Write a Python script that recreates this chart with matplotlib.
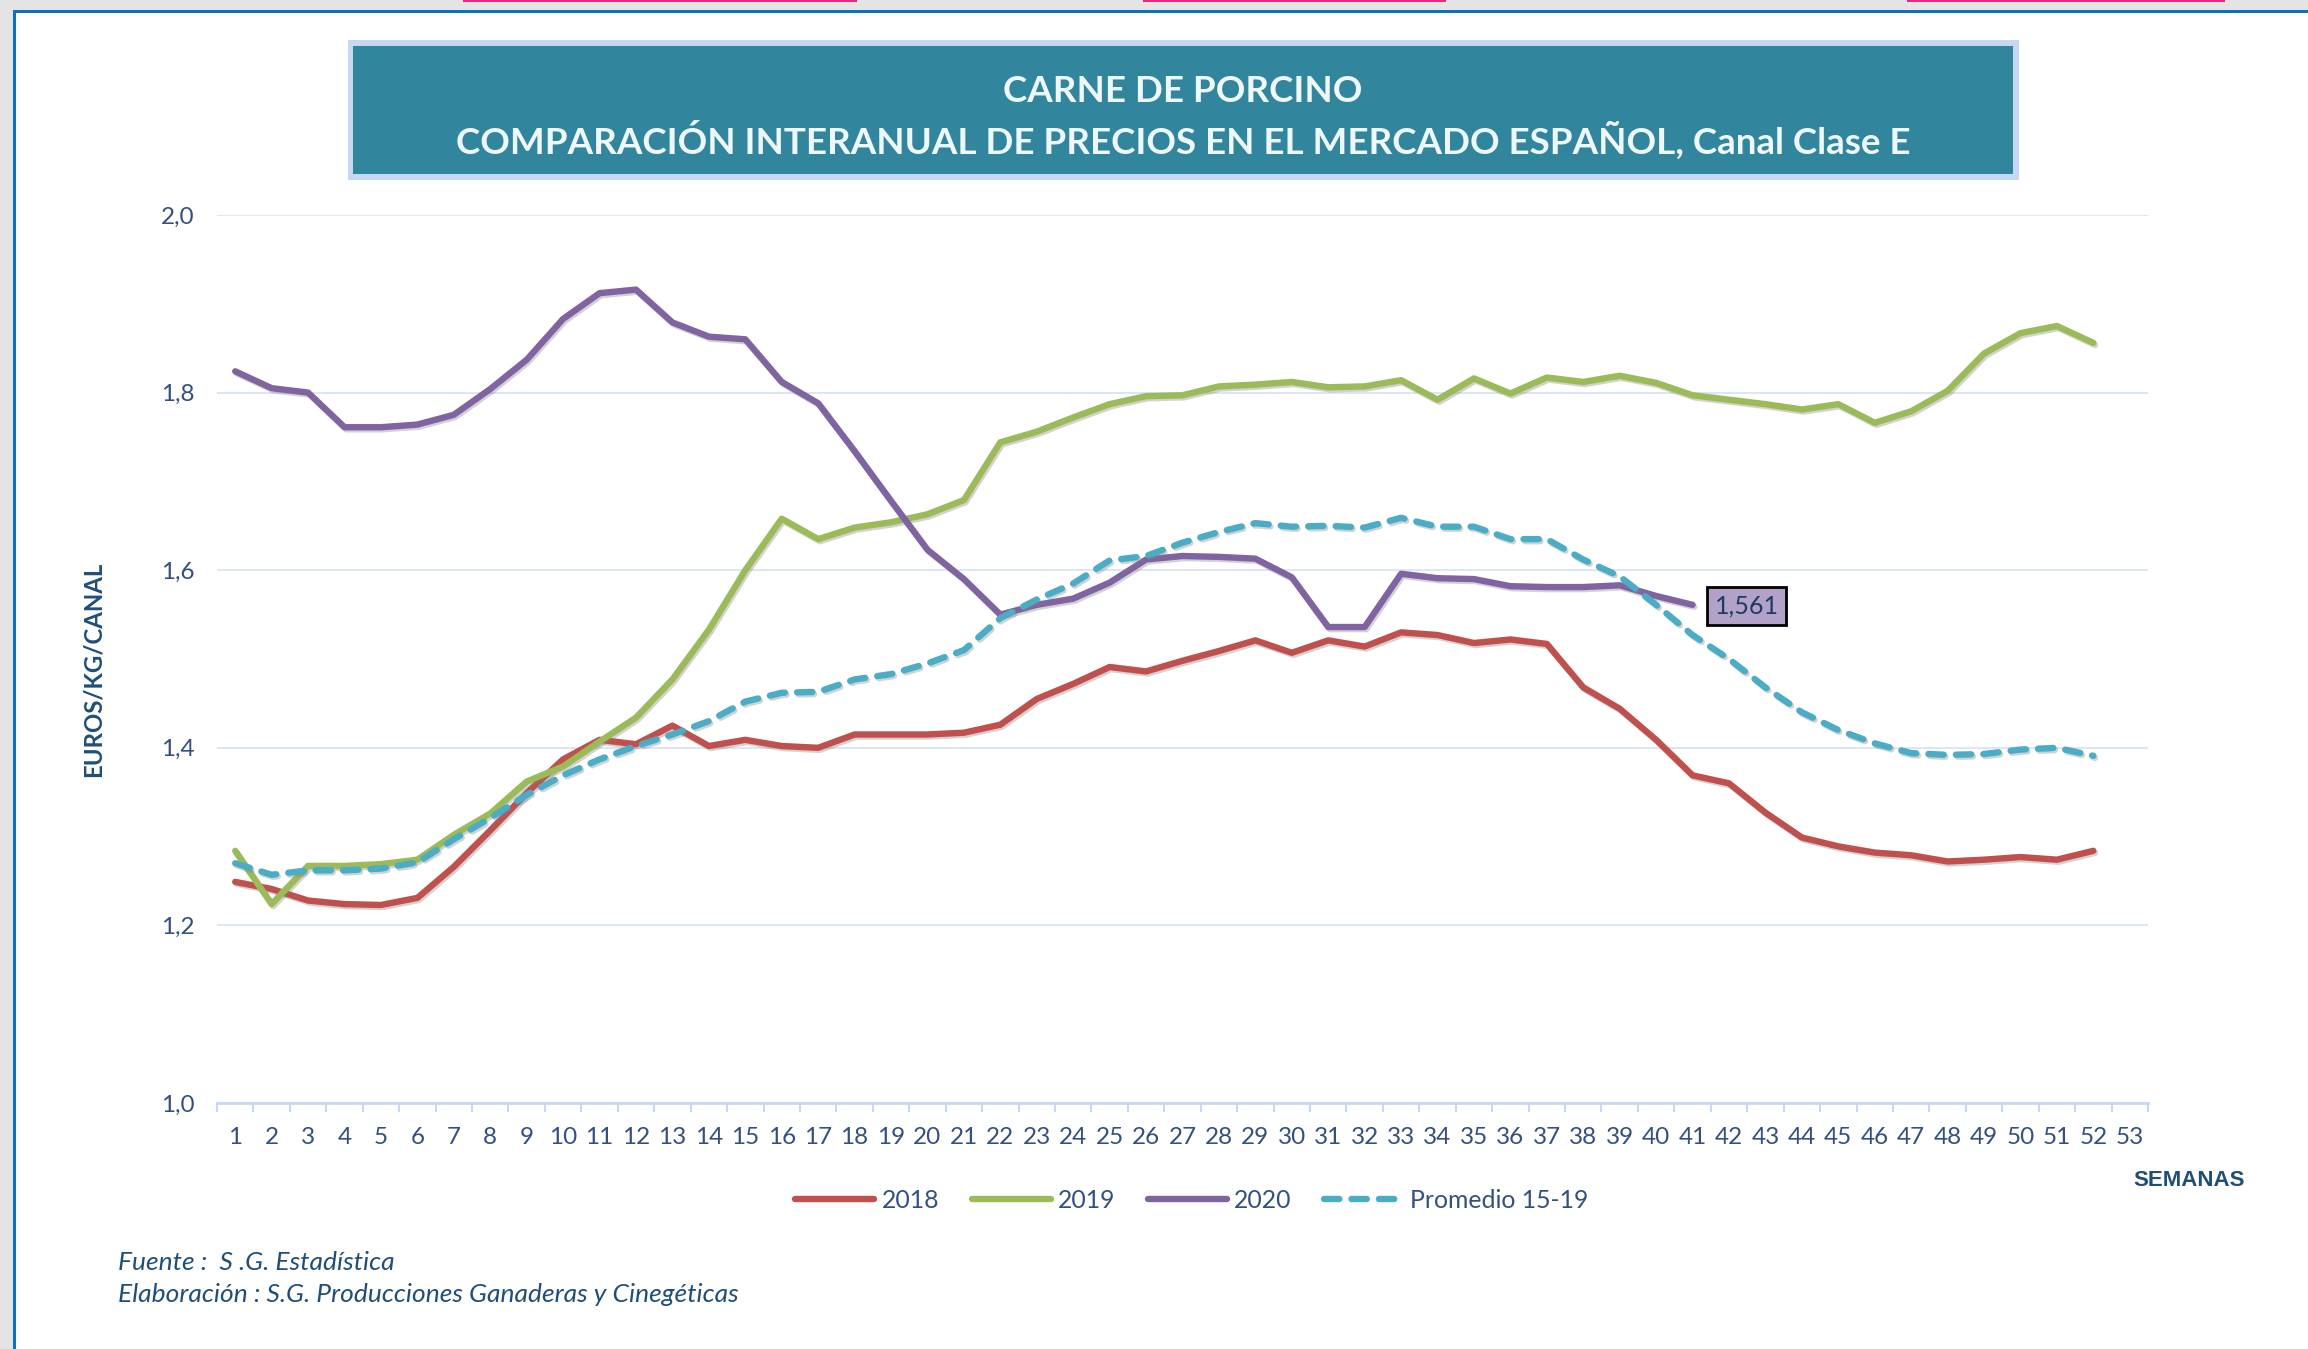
import matplotlib

matplotlib.use("Agg")

import matplotlib.pyplot as plt
import matplotlib.patheffects as pe
from matplotlib.patches import Rectangle
from matplotlib.ticker import FixedLocator, FuncFormatter

W, H = 2308, 1349

semanas = list(range(1, 54))

precio_2018 = [1.249, 1.241, 1.228, 1.224, 1.223, 1.231, 1.266, 1.307, 1.349, 1.387,
               1.409, 1.404, 1.425, 1.402, 1.409, 1.402, 1.400, 1.415, 1.415, 1.415,
               1.417, 1.426, 1.455, 1.472, 1.491, 1.486, 1.498, 1.509, 1.521, 1.507,
               1.521, 1.514, 1.530, 1.527, 1.518, 1.522, 1.517, 1.468, 1.444, 1.409,
               1.369, 1.360, 1.327, 1.299, 1.289, 1.282, 1.279, 1.272, 1.274, 1.277,
               1.274, 1.284]

precio_2019 = [1.284, 1.224, 1.267, 1.267, 1.269, 1.274, 1.302, 1.326, 1.362, 1.379,
               1.407, 1.434, 1.477, 1.533, 1.600, 1.658, 1.635, 1.648, 1.654, 1.663,
               1.679, 1.744, 1.756, 1.772, 1.787, 1.796, 1.797, 1.807, 1.809, 1.812,
               1.806, 1.807, 1.814, 1.792, 1.816, 1.799, 1.817, 1.812, 1.819, 1.811,
               1.797, 1.792, 1.787, 1.781, 1.787, 1.766, 1.779, 1.802, 1.844, 1.867,
               1.875, 1.856]

precio_2020 = [1.824, 1.805, 1.800, 1.761, 1.761, 1.764, 1.775, 1.804, 1.837, 1.883,
               1.912, 1.916, 1.879, 1.863, 1.860, 1.812, 1.788, 1.734, 1.678, 1.623,
               1.590, 1.550, 1.561, 1.568, 1.586, 1.612, 1.616, 1.615, 1.613, 1.592,
               1.536, 1.536, 1.596, 1.591, 1.590, 1.582, 1.581, 1.581, 1.583, 1.571,
               1.561]

promedio_15_19 = [1.270, 1.257, 1.262, 1.262, 1.264, 1.271, 1.297, 1.321, 1.347, 1.369,
                  1.387, 1.402, 1.415, 1.430, 1.452, 1.462, 1.463, 1.477, 1.483, 1.495,
                  1.510, 1.546, 1.567, 1.585, 1.611, 1.616, 1.631, 1.643, 1.653, 1.649,
                  1.650, 1.648, 1.659, 1.649, 1.649, 1.635, 1.635, 1.612, 1.593, 1.561,
                  1.527, 1.500, 1.468, 1.440, 1.420, 1.405, 1.394, 1.392, 1.393, 1.398,
                  1.400, 1.391]

y_ticks = [1.0, 1.2, 1.4, 1.6, 1.8, 2.0]

TEXT_COLOR = "#34507f"
DARK_BLUE = "#1f4e79"
FONT = ["Lato", "DejaVu Sans"]

plt.rcParams["font.family"] = FONT


def fx(px):
    return px / W


def fy(py):
    return 1 - py / H


fig = plt.figure(figsize=(W / 100, H / 100), dpi=100, facecolor="white")

# marco de la hoja (gris + borde azul)
fig.add_artist(Rectangle((0, fy(10)), 1, 10 / H, transform=fig.transFigure,
                         facecolor="#e4e4e4", edgecolor="none", zorder=0))
fig.add_artist(Rectangle((0, 0), fx(13), 1, transform=fig.transFigure,
                         facecolor="#e4e4e4", edgecolor="none", zorder=0))
for x0, x1 in [(463, 857), (1143, 1446), (1907, 2225)]:
    fig.add_artist(Rectangle((fx(x0), fy(2)), fx(x1 - x0), 2 / H, transform=fig.transFigure,
                             facecolor="#e8287f", edgecolor="none", zorder=1))
fig.add_artist(Rectangle((fx(13), fy(13)), 1, 3 / H, transform=fig.transFigure,
                         facecolor="#0a72c2", edgecolor="none", zorder=1))
fig.add_artist(Rectangle((fx(13), 0), fx(3), fy(10), transform=fig.transFigure,
                         facecolor="#0a72c2", edgecolor="none", zorder=1))

# caja del titulo
fig.add_artist(Rectangle((fx(348), fy(180)), fx(2019 - 348), 140 / H, transform=fig.transFigure,
                         facecolor="#c6d9f1", edgecolor="none", zorder=1))
fig.add_artist(Rectangle((fx(353), fy(174)), fx(2013 - 353), 128 / H, transform=fig.transFigure,
                         facecolor="#31859c", edgecolor="none", zorder=2))
fig.text(fx(1183), fy(92), "CARNE DE PORCINO", ha="center", va="center",
         fontsize=26.5, fontweight="bold", color="#eef7f9", zorder=3)
fig.text(fx(1183), fy(140),
         "COMPARACIÓN INTERANUAL DE PRECIOS EN EL MERCADO ESPAÑOL, Canal Clase E",
         ha="center", va="center", fontsize=26.5, fontweight="bold", color="#eef7f9", zorder=3)

ax = fig.add_axes([fx(217), fy(1103), fx(2148 - 217), (1103 - 215) / H])
ax.set_facecolor("none")

shadow = [pe.SimpleLineShadow(offset=(1.2, -1.5), shadow_color="#808080", alpha=0.35),
          pe.Normal()]

ax.plot(semanas[:len(precio_2018)], precio_2018, color="#c0504d", lw=4.6,
        solid_capstyle="round", solid_joinstyle="round", label="2018", path_effects=shadow)
ax.plot(semanas[:len(precio_2019)], precio_2019, color="#9bbb59", lw=4.6,
        solid_capstyle="round", solid_joinstyle="round", label="2019", path_effects=shadow)
ax.plot(semanas[:len(precio_2020)], precio_2020, color="#8064a2", lw=4.6,
        solid_capstyle="round", solid_joinstyle="round", label="2020", path_effects=shadow)
ax.plot(semanas[:len(promedio_15_19)], promedio_15_19, color="#4bacc6", lw=4.6,
        dashes=(2.4, 1.9), dash_capstyle="round", label="Promedio 15-19", path_effects=shadow)

ax.annotate("1,561", xy=(len(precio_2020), precio_2020[-1]), xytext=(39, -1),
            textcoords="offset points", ha="center", va="center", fontsize=18,
            color="#1f3864",
            bbox=dict(boxstyle="square,pad=0.3", facecolor="#b3a2c7", edgecolor="black", lw=2))

ax.set_xlim(0.5, 53.5)
ax.set_ylim(1.0, 2.0)
ax.set_xticks(semanas)
ax.xaxis.set_minor_locator(FixedLocator([s - 0.5 for s in semanas] + [53.5]))
ax.set_yticks(y_ticks)
ax.yaxis.set_major_formatter(FuncFormatter(lambda v, p: f"{v:.1f}".replace(".", ",")))

ax.tick_params(axis="x", which="major", length=0, pad=17, labelsize=17.5, labelcolor=TEXT_COLOR)
ax.tick_params(axis="x", which="minor", length=6.5, width=1.5, color="#c6d9f1", direction="out")
ax.tick_params(axis="y", length=0, pad=16, labelsize=17.5, labelcolor=TEXT_COLOR)

ax.grid(axis="y", color="#d9e4f3", lw=1.3)
for s in ["top", "right", "left"]:
    ax.spines[s].set_visible(False)
ax.spines["bottom"].set_color("#c6d9f1")
ax.spines["bottom"].set_linewidth(2)
ax.set_axisbelow(True)

fig.text(fx(93), fy(669), "EUROS/KG/CANAL", rotation=90, ha="center", va="center",
         fontsize=17.3, fontweight="bold", color=DARK_BLUE)
fig.text(fx(2133), fy(1180), "SEMANAS", ha="left", va="center", fontsize=16,
         fontweight="bold", color=DARK_BLUE, family=["Liberation Sans", "DejaVu Sans"])

handles, labels = ax.get_legend_handles_labels()
leg = fig.legend(handles, labels, loc="center", bbox_to_anchor=(fx(1192), fy(1200)),
                 ncol=4, frameon=False, fontsize=17.8, handlelength=3.2, handletextpad=0.3,
                 columnspacing=1.3)
for t in leg.get_texts():
    t.set_color(TEXT_COLOR)
for line in leg.get_lines():
    line.set_path_effects([])

fig.text(fx(118), fy(1262), "Fuente :  S .G. Estadística", ha="left", va="center",
         fontsize=19, fontstyle="italic", color=DARK_BLUE)
fig.text(fx(118), fy(1295), "Elaboración : S.G. Producciones Ganaderas y Cinegéticas",
         ha="left", va="center", fontsize=19, fontstyle="italic", color=DARK_BLUE)

fig.savefig("out.png", dpi=100, facecolor="white")
plt.close(fig)
